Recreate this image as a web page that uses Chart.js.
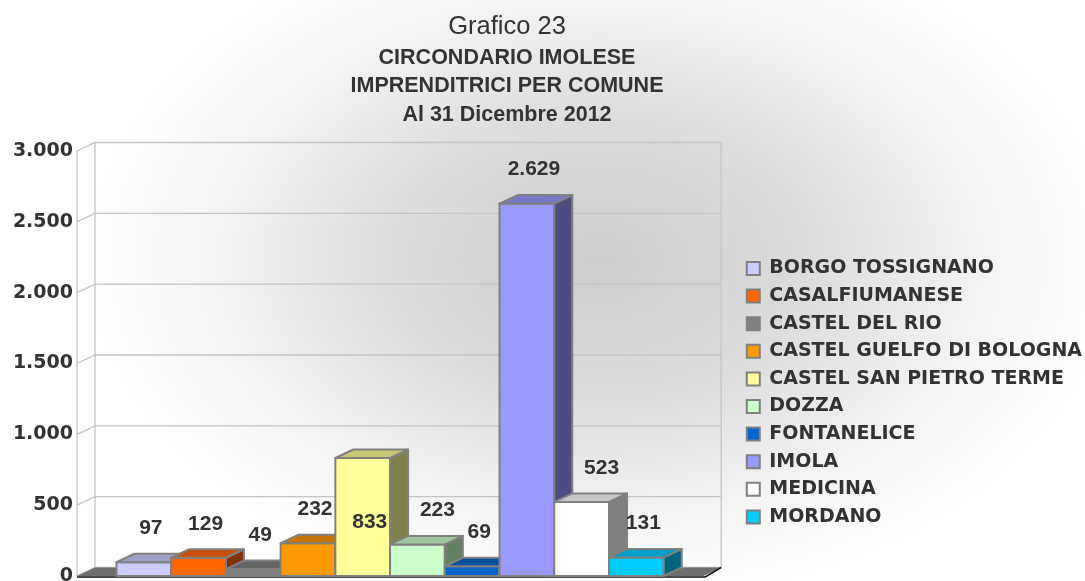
<!DOCTYPE html>
<html>
<head>
<meta charset="utf-8">
<script src="https://cdn.jsdelivr.net/npm/chart.js@4.4.0/dist/chart.umd.min.js"></script>
<style>
  html, body { margin: 0; padding: 0; background: #fff; }
  #box { width: 1085px; height: 581px; position: relative; }
</style>
</head>
<body>
<div id="box"><canvas id="grafico23"></canvas></div>
<script>
// Grafico 23 - imprenditrici per comune, circondario imolese (31/12/2012)
const comuni = ['BORGO TOSSIGNANO', 'CASALFIUMANESE', 'CASTEL DEL RIO', 'CASTEL GUELFO DI BOLOGNA',
  'CASTEL SAN PIETRO TERME', 'DOZZA', 'FONTANELICE', 'IMOLA', 'MEDICINA', 'MORDANO'];
const imprenditrici = [97, 129, 49, 232, 833, 223, 69, 2629, 523, 131];
const colori = ['#ccccff', '#ff6600', '#808080', '#ff9900', '#ffff99',
  '#ccffcc', '#0066cc', '#9999ff', '#ffffff', '#00ccff'];
const tickY = [0, 500, 1000, 1500, 2000, 2500, 3000];
const titoli = ['Grafico 23', 'CIRCONDARIO IMOLESE', 'IMPRENDITRICI PER COMUNE', 'Al 31 Dicembre 2012'];

// etichetta dentro la barra (come nell'originale excel)
const dentro = ['CASTEL SAN PIETRO TERME'];

const DX = 18, DY = 8.5;   // profondita' 3d
const testo = '#333333';

function puntini(v) {
  return String(v).replace(/\B(?=(\d{3})+(?!\d))/g, '.');
}

function scurisci(hex, f) {
  const n = parseInt(hex.slice(1), 16);
  const r = Math.round(((n >> 16) & 255) * f);
  const g = Math.round(((n >> 8) & 255) * f);
  const b = Math.round((n & 255) * f);
  return `rgb(${r},${g},${b})`;
}

function poligono(ctx, pts) {
  ctx.beginPath();
  ctx.moveTo(pts[0][0], pts[0][1]);
  for (let i = 1; i < pts.length; i++) ctx.lineTo(pts[i][0], pts[i][1]);
  ctx.closePath();
}

const sfondo = {
  id: 'sfondo',
  beforeDraw(chart) {
    const ctx = chart.ctx;
    ctx.save();
    ctx.translate(600, 260);
    ctx.scale(1.5, 1);
    const g = ctx.createRadialGradient(0, 0, 0, 0, 0, 340);
    g.addColorStop(0, '#cccccc');
    g.addColorStop(0.4, '#dcdcdc');
    g.addColorStop(0.75, '#f3f3f3');
    g.addColorStop(1, '#ffffff');
    ctx.fillStyle = g;
    ctx.fillRect(-1000, -1000, 3000, 3000);
    ctx.restore();
  }
};

const barre3d = {
  id: 'barre3d',
  beforeDatasetsDraw(chart) {
    const { ctx, chartArea: a } = chart;
    const y = chart.scales.y;
    const L = a.left, R = a.right, T = a.top, B = a.bottom;
    ctx.save();

    // griglia sulle pareti
    ctx.strokeStyle = '#c4c4c4';
    ctx.lineWidth = 1.3;
    tickY.forEach(v => {
      const py = y.getPixelForValue(v);
      ctx.beginPath();
      ctx.moveTo(L, py);
      ctx.lineTo(L + DX, py - DY);
      ctx.lineTo(R + DX, py - DY);
      ctx.stroke();
    });
    ctx.beginPath();
    ctx.moveTo(L, B); ctx.lineTo(L, T);
    ctx.moveTo(L + DX, B - DY); ctx.lineTo(L + DX, T - DY);
    ctx.moveTo(R + DX, B - DY); ctx.lineTo(R + DX, T - DY);
    ctx.stroke();

    // pavimento
    poligono(ctx, [[L, B], [R, B], [R + DX, B - DY], [L + DX, B - DY]]);
    ctx.fillStyle = '#6e6e6e';
    ctx.fill();
    ctx.strokeStyle = '#111';
    ctx.lineWidth = 1.5;
    ctx.beginPath();
    ctx.moveTo(L, B + 1); ctx.lineTo(R + 2, B + 1); ctx.lineTo(R + DX, B - DY);
    ctx.stroke();

    // barre, da sinistra a destra
    ctx.lineJoin = 'round';
    const pezzi = [];
    chart.data.datasets.forEach((ds, i) => {
      const meta = chart.getDatasetMeta(i);
      meta.data.forEach((bar, j) => {
        const { x, y: top, base, width } = bar.getProps(['x', 'y', 'base', 'width'], true);
        const sx = x - width / 2, dx = x + width / 2;
        const col = ds.backgroundColor;
        ctx.strokeStyle = ds.borderColor;
        ctx.lineWidth = ds.borderWidth;

        poligono(ctx, [[sx, top], [dx, top], [dx, base], [sx, base]]);
        ctx.fillStyle = col; ctx.fill(); ctx.stroke();

        poligono(ctx, [[dx, top], [dx + DX, top - DY], [dx + DX, base - DY], [dx, base]]);
        ctx.fillStyle = scurisci(col, 0.5); ctx.fill(); ctx.stroke();

        poligono(ctx, [[sx, top], [sx + DX, top - DY], [dx + DX, top - DY], [dx, top]]);
        ctx.fillStyle = scurisci(col, 0.78); ctx.fill(); ctx.stroke();

        pezzi.push({ x, top, v: ds.data[j], dentro: dentro.includes(ds.label) });
      });
    });

    // valori: spostati a destra se la barra precedente e' molto piu' alta
    ctx.fillStyle = testo;
    ctx.font = 'bold 21px "Liberation Sans", Arial, sans-serif';
    ctx.textAlign = 'center';
    ctx.textBaseline = 'middle';
    pezzi.forEach((p, k) => {
      const ty = p.dentro ? p.top + 64 : p.top - 34;
      const prima = pezzi[k - 1];
      const sposta = prima && !p.dentro && prima.top < ty - 30 ? 20 : 7;
      ctx.fillText(puntini(p.v), p.x + sposta, ty);
    });

    ctx.restore();
    return false;
  }
};

const intestazione = {
  id: 'intestazione',
  afterDraw(chart) {
    const ctx = chart.ctx;
    ctx.save();
    ctx.fillStyle = testo;
    ctx.textAlign = 'center';
    ctx.textBaseline = 'middle';
    const righeY = [27, 57.8, 86.5, 115];
    titoli.forEach((t, i) => {
      ctx.font = i === 0 ? '25.5px "Liberation Sans", Arial, sans-serif'
                         : 'bold 21.5px "Liberation Sans", Arial, sans-serif';
      ctx.fillText(t, 507, righeY[i]);
    });
    ctx.restore();
  }
};

const datasets = comuni.map((c, i) => ({
  label: c,
  data: [imprenditrici[i]],
  backgroundColor: colori[i],
  borderColor: '#808080',
  borderWidth: 2
}));

new Chart(document.getElementById('grafico23'), {
  type: 'bar',
  data: { labels: [''], datasets: datasets },
  options: {
    responsive: true,
    maintainAspectRatio: false,
    animation: false,
    events: [],
    datasets: { bar: { barPercentage: 1, categoryPercentage: 0.874 } },
    layout: { padding: { top: 151, bottom: 5, left: 0, right: -7 } },
    scales: {
      x: { display: false },
      y: {
        min: 0, max: 3000,
        grid: { display: false, drawTicks: false },
        border: { display: false },
        afterBuildTicks: s => { s.ticks = tickY.map(v => ({ value: v })); },
        afterFit: s => { s.width = 77; s.paddingTop = 0; s.paddingBottom = 0; },
        ticks: {
          padding: 4, color: testo,
          font: { family: 'DejaVu Sans', size: 19, weight: 'bold' },
          callback: v => puntini(v)
        }
      },
      y2: {
        type: 'linear', position: 'right', display: true,
        grid: { display: false, drawTicks: false },
        border: { display: false },
        ticks: { display: false },
        afterFit: s => { s.width = 35; s.paddingTop = 0; s.paddingBottom = 0; }
      }
    },
    plugins: {
      legend: {
        position: 'right',
        align: 'center',
        maxWidth: 360,
        title: { display: true, text: '', padding: { top: 44, bottom: 0 } },
        labels: {
          boxWidth: 13, boxHeight: 13, padding: 8.6, color: testo,
          font: { family: 'DejaVu Sans', size: 19, weight: 'bold' }
        }
      },
      tooltip: { enabled: false }
    }
  },
  plugins: [sfondo, barre3d, intestazione]
});
</script>
</body>
</html>
